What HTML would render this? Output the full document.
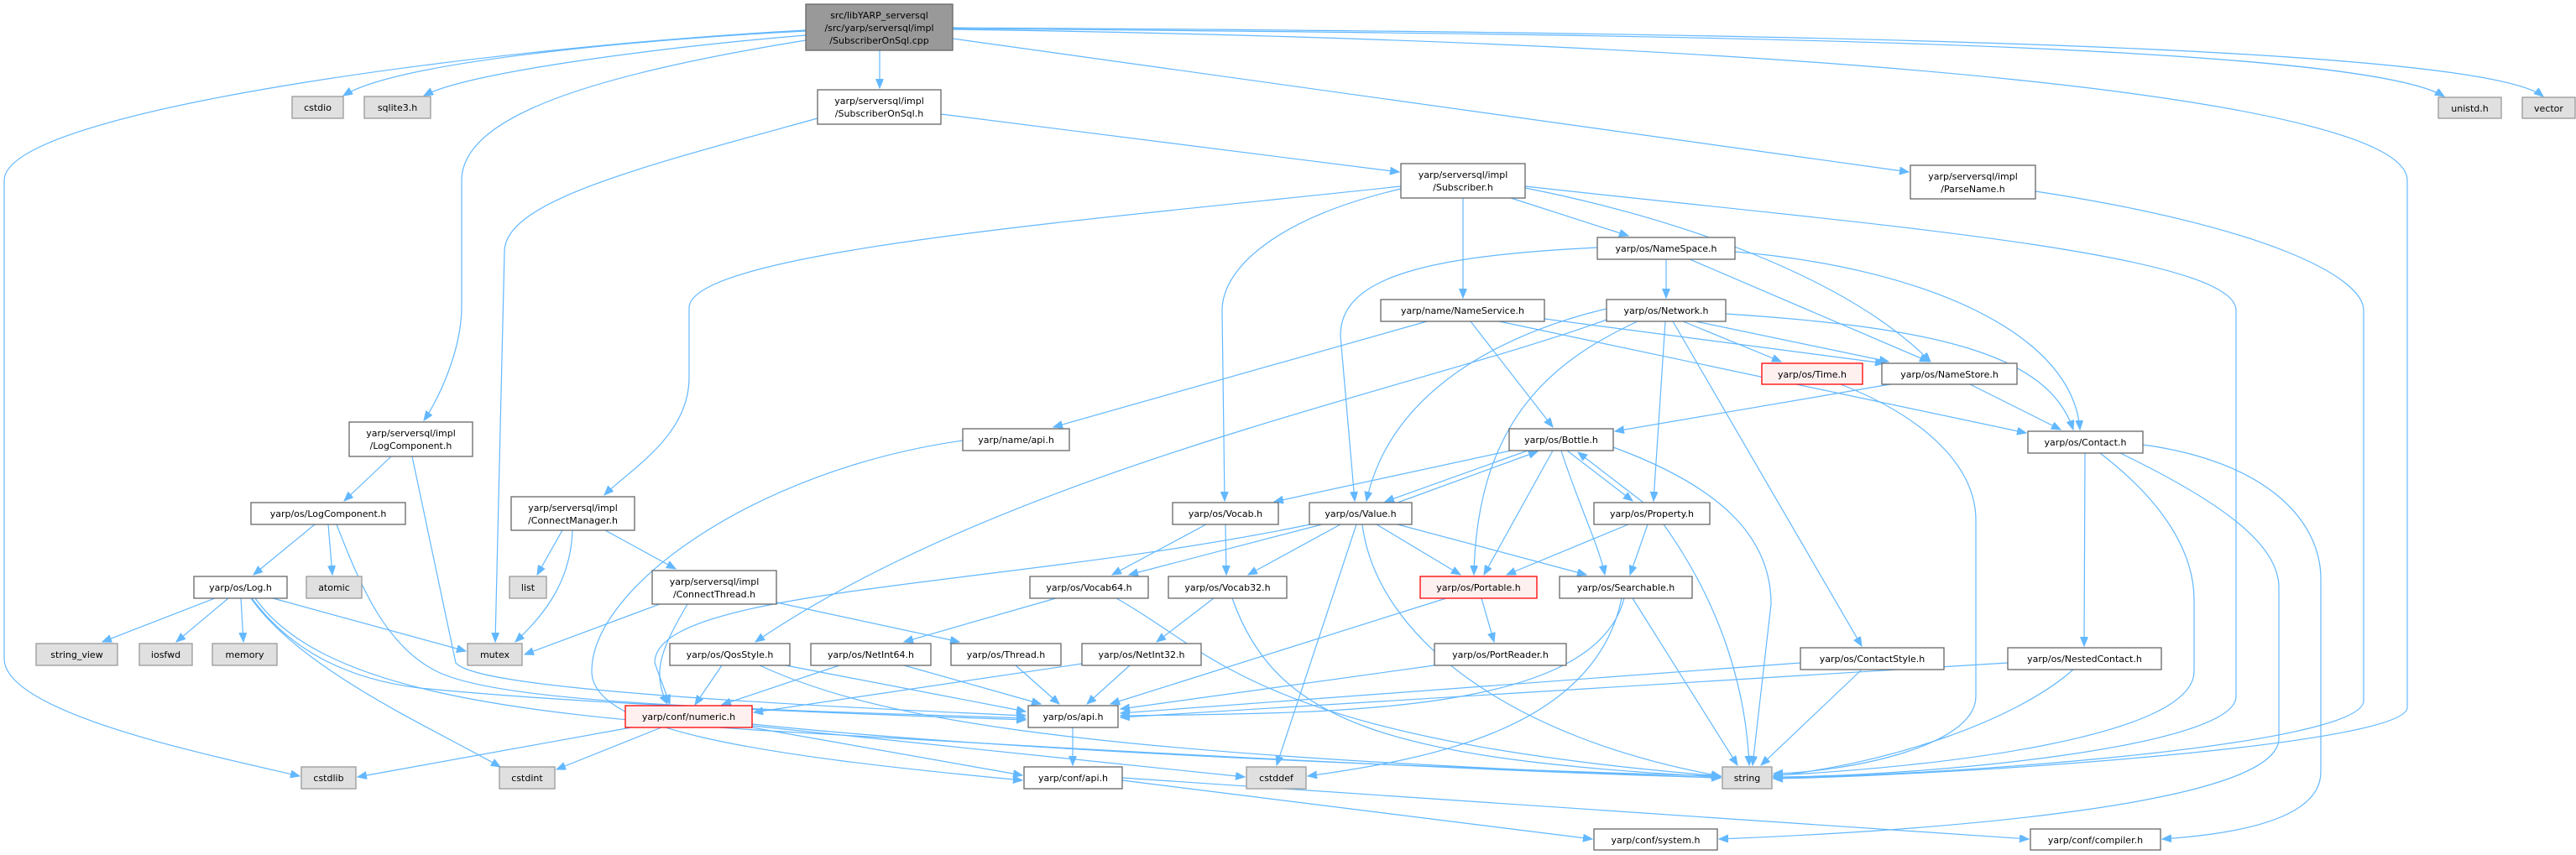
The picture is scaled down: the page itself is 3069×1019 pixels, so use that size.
<!DOCTYPE html>
<html><head><meta charset="utf-8"><style>
html,body{margin:0;padding:0;background:#fff;}
svg{display:block;}
text{font-family:"DejaVu Sans","Liberation Sans",sans-serif;font-size:11px;fill:#000;text-anchor:middle;}
.n{fill:#fff;stroke:#666;stroke-width:1.3}
.g{fill:#e0e0e0;stroke:#999;stroke-width:1.3}
.r{fill:#fff0f0;stroke:#f00;stroke-width:1.3}
.t{fill:#999;stroke:#666;stroke-width:1.3}
path{fill:none;stroke:#63b8ff;stroke-width:1.2;marker-end:url(#a)}
</style></head><body>
<svg width="3069" height="1019" viewBox="0 0 3069 1019" xmlns="http://www.w3.org/2000/svg">
<defs><marker id="a" markerUnits="userSpaceOnUse" markerWidth="12" markerHeight="10" refX="11" refY="4.5" orient="auto"><polygon points="0,0 11,4.5 0,9" fill="#63b8ff" stroke="#63b8ff"/></marker></defs>
<g>
<path d="M960,37 C800,45 480,70 409,114"/>
<path d="M960,42 C800,55 560,85 505,114"/>
<path d="M960,36 C600,55 5,130 5,215 L5,785 C5,850 250,900 357,925"/>
<path d="M960,48 C700,90 550,140 550,215 L550,365 C550,420 520,480 505,501"/>
<path d="M1048,60 L1048,105"/>
<path d="M1135,46 L2274,205"/>
<path d="M1135,34 C1800,40 2800,45 2912,115"/>
<path d="M1135,33 C2000,38 2950,50 3030,115"/>
<path d="M1135,35 C2200,50 2868,120 2868,215 L2868,843 C2868,890 2300,925 2113,928"/>
<path d="M1121,136 L1667,205"/>
<path d="M974,141 C760,200 601,240 601,300 L590,765"/>
<path d="M1669,222 C1300,262 821,300 821,367 L821,450 C821,520 750,560 720,590"/>
<path d="M1669,225 C1520,260 1456,320 1456,370 L1459,597"/>
<path d="M1743,236 L1743,355"/>
<path d="M1800,236 L1940,281"/>
<path d="M1817,224 C2000,260 2200,330 2300,431"/>
<path d="M1817,222 C2200,265 2664,300 2664,370 L2664,830 C2664,890 2300,925 2113,926"/>
<path d="M2425,228 C2700,270 2816,330 2816,370 L2816,835 C2816,890 2300,925 2113,927"/>
<path d="M1985,309 L1985,355"/>
<path d="M1903,295 C1700,305 1597,330 1597,400 L1614,597"/>
<path d="M2013,309 L2298,431"/>
<path d="M2067,300 C2300,320 2470,400 2478,512"/>
<path d="M1700,383 L1255,509"/>
<path d="M1752,383 L1850,509"/>
<path d="M1786,383 L2414,516"/>
<path d="M1840,380 L2245,433"/>
<path d="M1914,368 C1820,390 1660,450 1628,597"/>
<path d="M1914,381 C1700,460 1200,560 900,765"/>
<path d="M1951,383 C1850,430 1760,500 1756,685"/>
<path d="M1984,383 L1970,597"/>
<path d="M1993,383 L2218,770"/>
<path d="M2005,383 L2122,431"/>
<path d="M2020,383 L2250,431"/>
<path d="M2056,374 C2300,390 2440,420 2470,512"/>
<path d="M2347,458 L2455,512"/>
<path d="M2252,458 L1924,514"/>
<path d="M2193,458 C2300,500 2354,560 2354,620 L2354,830 C2354,890 2200,920 2113,922"/>
<path d="M1800,537 L1518,598"/>
<path d="M1820,537 L1650,598"/>
<path d="M1665,599 L1832,538"/>
<path d="M1850,537 L1768,685"/>
<path d="M1867,537 L1945,597"/>
<path d="M1958,599 L1880,539"/>
<path d="M1860,537 C1880,600 1905,650 1912,685"/>
<path d="M1922,533 C2050,580 2110,640 2110,720 L2088,912"/>
<path d="M1575,625 L1345,685"/>
<path d="M1597,625 L1487,685"/>
<path d="M1640,625 L1740,685"/>
<path d="M1665,625 L1890,685"/>
<path d="M1616,625 L1521,912"/>
<path d="M1623,625 C1640,760 1800,880 2050,925"/>
<path d="M1561,625 C1200,700 780,700 780,790 L798,839"/>
<path d="M1940,625 L1795,685"/>
<path d="M1963,625 L1942,685"/>
<path d="M1982,625 C2050,720 2080,820 2084,912"/>
<path d="M1437,625 L1325,685"/>
<path d="M1460,625 L1461,685"/>
<path d="M1258,713 L1077,765"/>
<path d="M1330,713 C1450,780 1500,880 2050,925"/>
<path d="M1446,713 L1378,765"/>
<path d="M1468,713 C1520,860 1650,905 2050,926"/>
<path d="M1723,713 L1323,839"/>
<path d="M1765,713 L1780,765"/>
<path d="M1935,713 C1900,850 1600,850 1335,853"/>
<path d="M1945,713 L2070,912"/>
<path d="M1932,713 C1900,870 1700,905 1558,925"/>
<path d="M1709,793 L1335,845"/>
<path d="M1346,793 L1295,839"/>
<path d="M1289,791 L898,849"/>
<path d="M1210,793 L1262,839"/>
<path d="M1077,793 L1240,839"/>
<path d="M1000,793 L860,840"/>
<path d="M860,793 L828,840"/>
<path d="M936,793 L1222,848"/>
<path d="M905,793 C1050,860 1300,900 2050,927"/>
<path d="M2145,790 L1335,850"/>
<path d="M2218,798 L2098,912"/>
<path d="M2392,790 L1335,855"/>
<path d="M2470,798 C2400,860 2250,910 2113,925"/>
<path d="M2484,540 L2483,770"/>
<path d="M2502,540 C2580,600 2614,660 2614,715 L2614,800 C2614,880 2300,915 2113,924"/>
<path d="M2526,540 C2650,600 2715,650 2715,700 L2715,880 C2715,960 2300,990 2048,1000"/>
<path d="M2553,530 C2700,550 2765,620 2765,690 L2765,920 C2765,980 2650,995 2576,1000"/>
<path d="M1278,867 L1278,912"/>
<path d="M1337,930 L1897,1000"/>
<path d="M1337,927 L2417,1000"/>
<path d="M752,867 L426,926"/>
<path d="M788,867 L663,917"/>
<path d="M896,867 L1218,924"/>
<path d="M896,865 L1483,926"/>
<path d="M896,863 C1200,895 1700,915 2050,925"/>
<path d="M466,544 L410,597"/>
<path d="M491,544 L543,790 C560,810 700,830 1222,853"/>
<path d="M375,625 L302,685"/>
<path d="M391,625 L396,685"/>
<path d="M401,625 C430,700 460,770 520,800 C600,840 900,845 1222,856"/>
<path d="M670,632 L640,685"/>
<path d="M682,632 C680,700 640,740 614,765"/>
<path d="M721,632 L805,678"/>
<path d="M786,720 L625,780"/>
<path d="M819,720 C790,770 775,800 795,839"/>
<path d="M925,718 L1143,765"/>
<path d="M256,713 L122,765"/>
<path d="M272,713 L210,765"/>
<path d="M287,713 L290,765"/>
<path d="M325,713 L555,776"/>
<path d="M299,713 C360,800 520,870 596,914"/>
<path d="M300,713 C350,780 420,810 500,820 C700,840 1000,850 1222,858"/>
<path d="M304,713 C380,820 600,850 900,870 C1400,900 1800,920 2050,927"/>
<path d="M1147,525 C900,560 705,700 705,800 C705,870 900,900 1218,930"/>
</g>
<g>
<rect class="t" x="960" y="5" width="175" height="55"/><text x="1047.5" y="22">src/libYARP_serversql</text><text x="1047.5" y="37">/src/yarp/serversql/impl</text><text x="1047.5" y="52">/SubscriberOnSql.cpp</text>
<rect class="g" x="348" y="115" width="61" height="26"/><text x="378.5" y="132">cstdio</text>
<rect class="g" x="434" y="115" width="79" height="26"/><text x="473.5" y="132">sqlite3.h</text>
<rect class="n" x="974" y="107" width="147" height="41"/><text x="1047.5" y="124">yarp/serversql/impl</text><text x="1047.5" y="139">/SubscriberOnSql.h</text>
<rect class="g" x="2905" y="116" width="75" height="25"/><text x="2942.5" y="133">unistd.h</text>
<rect class="g" x="3005" y="116" width="63" height="25"/><text x="3036.5" y="133">vector</text>
<rect class="n" x="1669" y="195" width="148" height="41"/><text x="1743" y="212">yarp/serversql/impl</text><text x="1743" y="227">/Subscriber.h</text>
<rect class="n" x="2276" y="197" width="149" height="40"/><text x="2350.5" y="214">yarp/serversql/impl</text><text x="2350.5" y="229">/ParseName.h</text>
<rect class="n" x="1903" y="283" width="164" height="26"/><text x="1985" y="300">yarp/os/NameSpace.h</text>
<rect class="n" x="1645" y="357" width="195" height="26"/><text x="1742.5" y="374">yarp/name/NameService.h</text>
<rect class="n" x="1914" y="357" width="142" height="26"/><text x="1985" y="374">yarp/os/Network.h</text>
<rect class="r" x="2099" y="433" width="120" height="25"/><text x="2159" y="450">yarp/os/Time.h</text>
<rect class="n" x="2242" y="433" width="161" height="25"/><text x="2322.5" y="450">yarp/os/NameStore.h</text>
<rect class="n" x="416" y="503" width="147" height="41"/><text x="489.5" y="520">yarp/serversql/impl</text><text x="489.5" y="535">/LogComponent.h</text>
<rect class="n" x="1147" y="511" width="127" height="26"/><text x="1210.5" y="528">yarp/name/api.h</text>
<rect class="n" x="1798" y="511" width="124" height="26"/><text x="1860" y="528">yarp/os/Bottle.h</text>
<rect class="n" x="2416" y="514" width="137" height="26"/><text x="2484.5" y="531">yarp/os/Contact.h</text>
<rect class="n" x="299" y="599" width="184" height="26"/><text x="391" y="616">yarp/os/LogComponent.h</text>
<rect class="n" x="609" y="592" width="147" height="40"/><text x="682.5" y="609">yarp/serversql/impl</text><text x="682.5" y="624">/ConnectManager.h</text>
<rect class="n" x="1397" y="599" width="126" height="26"/><text x="1460" y="616">yarp/os/Vocab.h</text>
<rect class="n" x="1560" y="599" width="122" height="26"/><text x="1621" y="616">yarp/os/Value.h</text>
<rect class="n" x="1899" y="599" width="138" height="26"/><text x="1968" y="616">yarp/os/Property.h</text>
<rect class="n" x="231" y="687" width="111" height="26"/><text x="286.5" y="704">yarp/os/Log.h</text>
<rect class="g" x="365" y="687" width="66" height="26"/><text x="398" y="704">atomic</text>
<rect class="g" x="607" y="687" width="44" height="26"/><text x="629" y="704">list</text>
<rect class="n" x="777" y="680" width="148" height="40"/><text x="851" y="697">yarp/serversql/impl</text><text x="851" y="712">/ConnectThread.h</text>
<rect class="n" x="1227" y="687" width="141" height="26"/><text x="1297.5" y="704">yarp/os/Vocab64.h</text>
<rect class="n" x="1392" y="687" width="141" height="26"/><text x="1462.5" y="704">yarp/os/Vocab32.h</text>
<rect class="r" x="1692" y="687" width="139" height="26"/><text x="1761.5" y="704">yarp/os/Portable.h</text>
<rect class="n" x="1858" y="687" width="158" height="26"/><text x="1937" y="704">yarp/os/Searchable.h</text>
<rect class="g" x="43" y="767" width="97" height="26"/><text x="91.5" y="784">string_view</text>
<rect class="g" x="166" y="767" width="63" height="26"/><text x="197.5" y="784">iosfwd</text>
<rect class="g" x="253" y="767" width="77" height="26"/><text x="291.5" y="784">memory</text>
<rect class="g" x="557" y="767" width="65" height="26"/><text x="589.5" y="784">mutex</text>
<rect class="n" x="798" y="767" width="143" height="26"/><text x="869.5" y="784">yarp/os/QosStyle.h</text>
<rect class="n" x="966" y="767" width="143" height="26"/><text x="1037.5" y="784">yarp/os/NetInt64.h</text>
<rect class="n" x="1133" y="767" width="131" height="26"/><text x="1198.5" y="784">yarp/os/Thread.h</text>
<rect class="n" x="1289" y="767" width="142" height="26"/><text x="1360" y="784">yarp/os/NetInt32.h</text>
<rect class="n" x="1709" y="767" width="157" height="26"/><text x="1787.5" y="784">yarp/os/PortReader.h</text>
<rect class="n" x="2145" y="772" width="171" height="26"/><text x="2230.5" y="789">yarp/os/ContactStyle.h</text>
<rect class="n" x="2392" y="772" width="183" height="26"/><text x="2483.5" y="789">yarp/os/NestedContact.h</text>
<rect class="r" x="745" y="841" width="151" height="26"/><text x="820.5" y="858">yarp/conf/numeric.h</text>
<rect class="n" x="1225" y="841" width="107" height="26"/><text x="1278.5" y="858">yarp/os/api.h</text>
<rect class="g" x="359" y="914" width="65" height="26"/><text x="391.5" y="931">cstdlib</text>
<rect class="g" x="595" y="914" width="66" height="26"/><text x="628" y="931">cstdint</text>
<rect class="n" x="1220" y="914" width="117" height="26"/><text x="1278.5" y="931">yarp/conf/api.h</text>
<rect class="g" x="1485" y="914" width="71" height="26"/><text x="1520.5" y="931">cstddef</text>
<rect class="g" x="2052" y="914" width="59" height="26"/><text x="2081.5" y="931">string</text>
<rect class="n" x="1899" y="988" width="147" height="25"/><text x="1972.5" y="1005">yarp/conf/system.h</text>
<rect class="n" x="2419" y="988" width="155" height="25"/><text x="2496.5" y="1005">yarp/conf/compiler.h</text>
</g>
</svg>
</body></html>
